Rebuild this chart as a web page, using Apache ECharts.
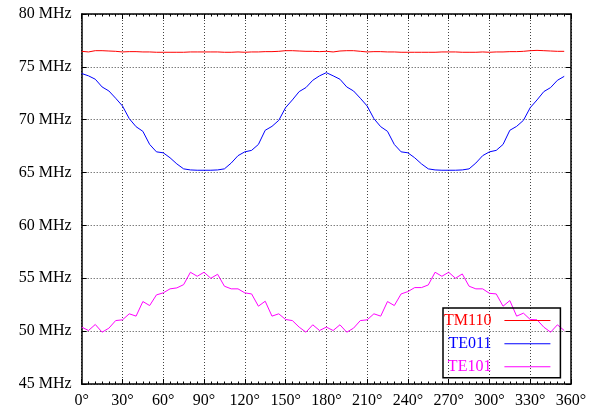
<!DOCTYPE html>
<html>
<head>
<meta charset="utf-8">
<script src="https://cdn.jsdelivr.net/npm/echarts@6/dist/echarts.min.js"></script>
<style>html,body{margin:0;padding:0;background:#fff}#c{width:592px;height:414px}</style>
</head>
<body>
<div id="c"></div>
<script>
const angles = [0,5,10,15,20,25,30,35,40,45,50,55,60,65,70,75,80,85,90,95,100,105,110,115,120,125,130,135,140,145,150,155,160,165,170,175,
180,185,190,195,200,205,210,215,220,225,230,235,240,245,250,255,260,265,270,275,280,285,290,295,300,305,310,315,320,325,330,335,340,345,350,355];
const tm110 = [76.47,76.41,76.53,76.53,76.50,76.47,76.41,76.44,76.44,76.41,76.41,76.38,76.38,76.38,76.38,76.38,76.41,76.41,76.41,76.41,76.41,76.38,76.38,76.41,76.38,76.41,76.41,76.44,76.44,76.47,76.53,76.53,76.50,76.47,76.47,76.44,
76.47,76.41,76.50,76.53,76.53,76.47,76.41,76.44,76.44,76.41,76.41,76.38,76.38,76.38,76.38,76.38,76.38,76.41,76.41,76.41,76.38,76.38,76.38,76.41,76.38,76.41,76.41,76.44,76.44,76.47,76.53,76.56,76.53,76.50,76.47,76.47];
const te011 = [74.37,74.15,73.83,73.1,72.72,72.03,71.3,70.1,69.34,68.9,67.66,66.96,66.87,66.4,65.82,65.35,65.25,65.22,65.22,65.22,65.25,65.35,65.9,66.6,66.96,67.1,67.66,69.0,69.37,69.94,71.14,71.87,72.66,73.04,73.73,74.15,
74.45,74.15,73.83,73.1,72.72,72.03,71.3,70.1,69.34,68.9,67.66,66.96,66.87,66.4,65.82,65.35,65.25,65.22,65.22,65.22,65.25,65.35,65.9,66.6,66.96,67.1,67.66,69.0,69.37,69.94,71.14,71.87,72.66,73.04,73.73,74.1];
const te101 = [50.38,50.06,50.63,49.9,50.28,51.0,51.07,51.64,51.42,52.8,52.42,53.43,53.62,54.0,54.09,54.4,55.57,55.19,55.57,55.0,55.38,54.25,54.0,54.0,53.62,53.52,52.36,52.83,51.42,51.64,51.1,51.0,50.38,49.9,50.6,50.06,
50.38,50.06,50.6,49.9,50.28,51.0,51.07,51.64,51.42,52.8,52.42,53.52,53.74,54.12,54.12,54.37,55.57,55.19,55.57,55.0,55.41,54.25,54.0,54.0,53.58,53.52,52.36,52.89,51.42,51.7,51.1,51.07,50.38,49.9,50.6,50.06];
const seriesNames = ['TM110','TE011','TE101'];
const seriesColors = ['#ff0000','#0000ff','#ff00ff'];
const xTicks = {min:0, max:360, interval:30};
const yTicks = {min:45, max:80, interval:5};

const allValues = [tm110, te011, te101];
const font = 'Liberation Serif';
const chart = echarts.init(document.getElementById('c'), null, {renderer:'canvas'});

function xAxisDef(pos, showLabel){
  return {
    type:'value', position:pos, min:xTicks.min, max:xTicks.max, interval:xTicks.interval,
    axisLine:{show:true, onZero:false, lineStyle:{color:'#000', width:1.5}},
    axisTick:{show:true, inside:true, length:5, lineStyle:{color:'#000', width:1}},
    minorTick:{show:true, splitNumber:6, length:2.5, lineStyle:{color:'#000', width:1}},
    axisLabel:{show:showLabel, formatter:'{value}°', color:'#000', fontFamily:font, fontSize:16, margin:9},
    splitLine:{show:showLabel, lineStyle:{color:'#444', type:[1,2], width:1}}
  };
}
function yAxisDef(pos, showLabel){
  return {
    type:'value', position:pos, min:yTicks.min, max:yTicks.max, interval:yTicks.interval,
    axisLine:{show:true, onZero:false, lineStyle:{color:'#000', width:1.5}},
    axisTick:{show:true, inside:true, length:5, lineStyle:{color:'#000', width:1}},
    axisLabel:{show:showLabel, formatter:'{value} MHz', color:'#000', fontFamily:font, fontSize:16, margin:10},
    splitLine:{show:showLabel, lineStyle:{color:'#444', type:[1,2], width:1}}
  };
}

chart.setOption({
  animation:false,
  backgroundColor:'#fff',
  grid:{left:81.7, right:21, top:14, bottom:30, containLabel:false},
  xAxis:[xAxisDef('bottom', true), xAxisDef('top', false)],
  yAxis:[yAxisDef('left', true), yAxisDef('right', false)],
  legend:{
    orient:'vertical', left:443, top:308, align:'right',
    icon:'rect', itemWidth:46, itemHeight:1, itemGap:7.1,
    padding:[4.6,10,3,1],
    borderColor:'#000', borderWidth:1.5, borderRadius:0,
    backgroundColor:'transparent',
    textStyle:{fontFamily:font, fontSize:16},
    formatter: name => name + '\u00a0\u00a0',
    data: seriesNames.map((n,i)=>({name:n, textStyle:{color:seriesColors[i]}}))
  },
  series: seriesNames.map((n,i)=>({
    name:n, type:'line', xAxisIndex:0, yAxisIndex:0,
    symbol:'none', showSymbol:false,
    lineStyle:{color:seriesColors[i], width:1},
    itemStyle:{color:seriesColors[i]},
    data: angles.map((a,k)=>[a, allValues[i][k]])
  }))
});
</script>
</body>
</html>
